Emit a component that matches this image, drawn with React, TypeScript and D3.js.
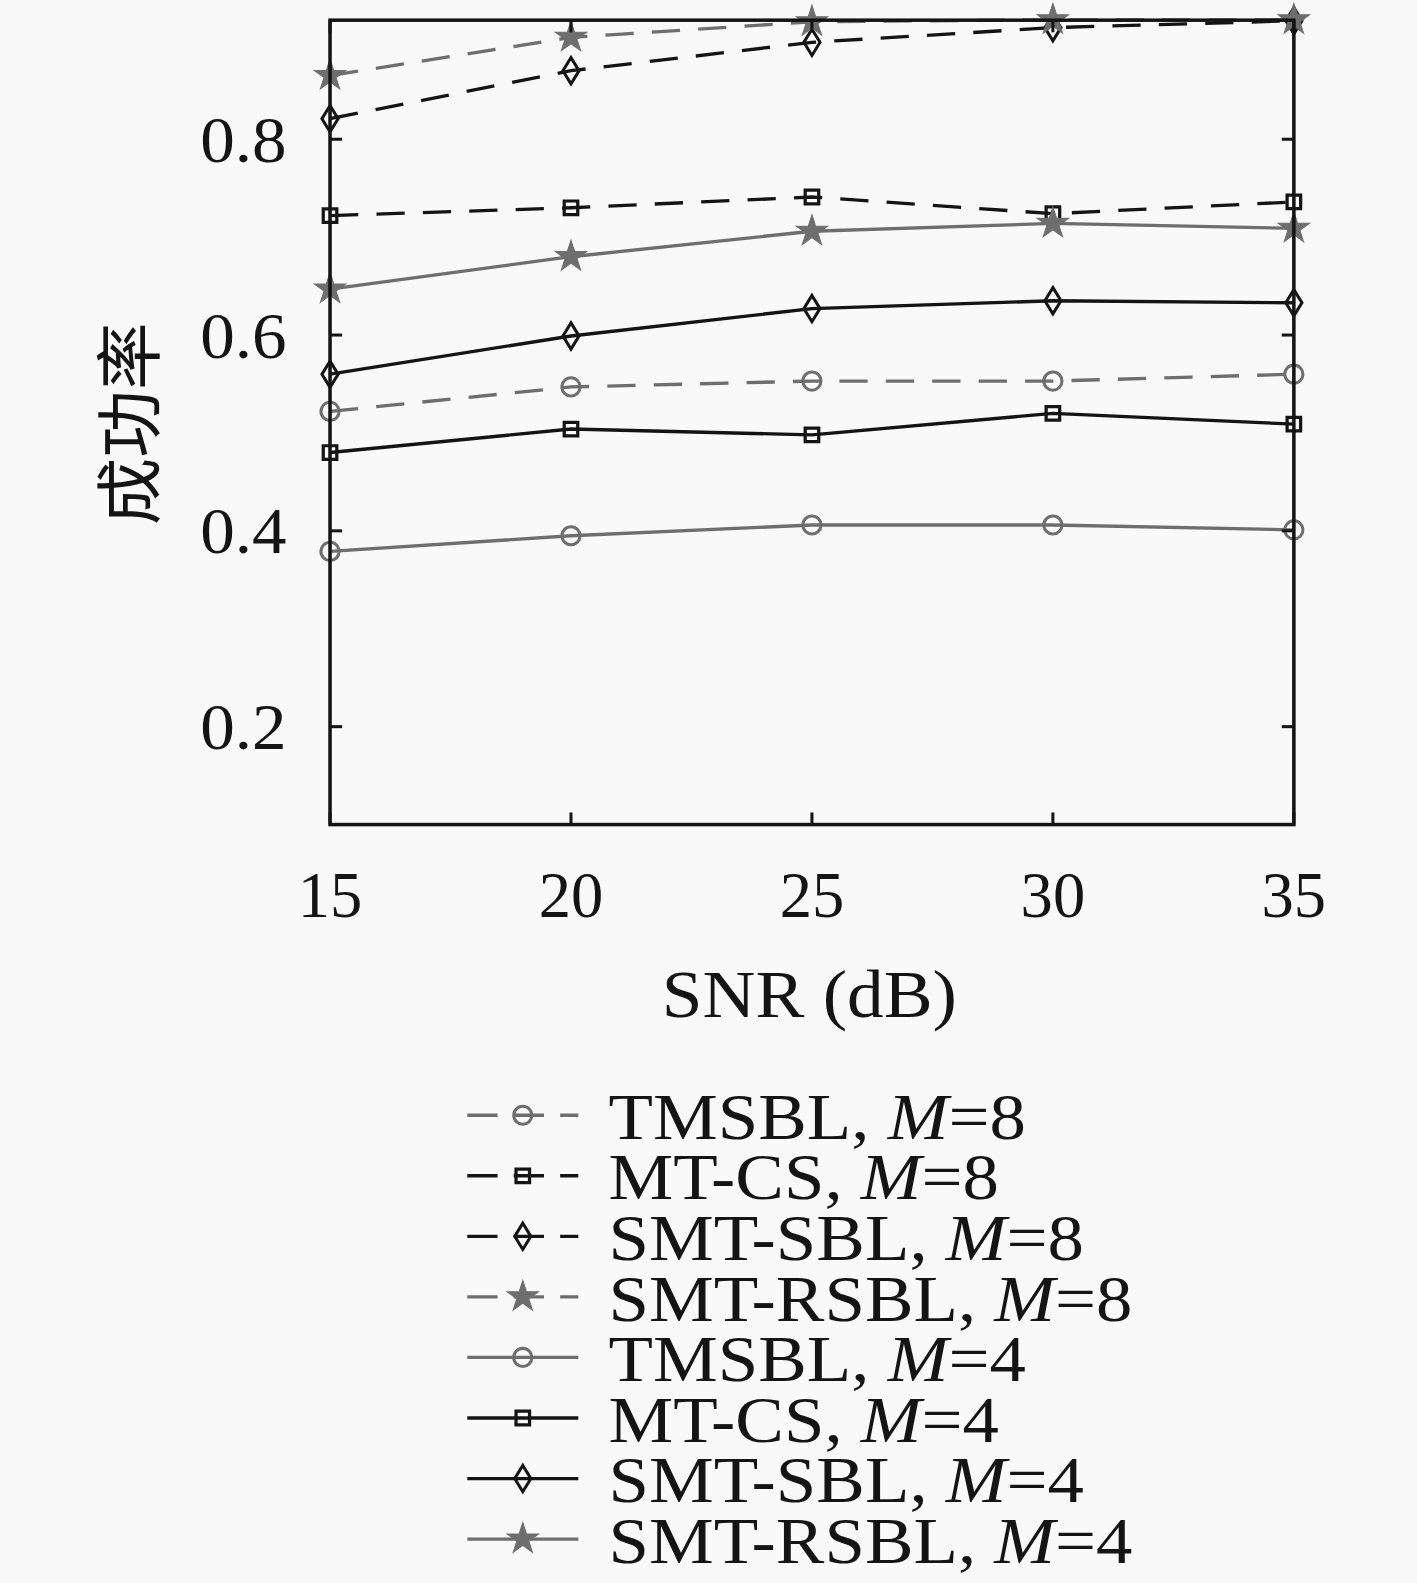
import React, { useEffect } from "react";
import * as d3 from "d3";

const snr = [15, 20, 25, 30, 35];
const yTicks = [0.2, 0.4, 0.6, 0.8];

const tmsbl8 = [0.522, 0.547, 0.553, 0.553, 0.56];
const mtcs8 = [0.722, 0.73, 0.741, 0.724, 0.736];
const smtsbl8 = [0.821, 0.87, 0.899, 0.914, 0.921];
const smtrsbl8 = [0.865, 0.904, 0.92, 0.922, 0.922];
const tmsbl4 = [0.379, 0.395, 0.406, 0.406, 0.401];
const mtcs4 = [0.48, 0.504, 0.498, 0.52, 0.509];
const smtsbl4 = [0.56, 0.599, 0.627, 0.635, 0.633];
const smtrsbl4 = [0.647, 0.68, 0.706, 0.714, 0.709];

const GRAY = "#6e6e6e";
const BLACK = "#141414";
const BG = "#f9f9f9";

type Marker = "circle" | "square" | "diamond" | "star";

const series = [
  { name: "TMSBL", m: 8, values: tmsbl8, color: GRAY, dashed: true, marker: "circle" as Marker },
  { name: "MT-CS", m: 8, values: mtcs8, color: BLACK, dashed: true, marker: "square" as Marker },
  { name: "SMT-SBL", m: 8, values: smtsbl8, color: BLACK, dashed: true, marker: "diamond" as Marker },
  { name: "SMT-RSBL", m: 8, values: smtrsbl8, color: GRAY, dashed: true, marker: "star" as Marker },
  { name: "TMSBL", m: 4, values: tmsbl4, color: GRAY, dashed: false, marker: "circle" as Marker },
  { name: "MT-CS", m: 4, values: mtcs4, color: BLACK, dashed: false, marker: "square" as Marker },
  { name: "SMT-SBL", m: 4, values: smtsbl4, color: BLACK, dashed: false, marker: "diamond" as Marker },
  { name: "SMT-RSBL", m: 4, values: smtrsbl4, color: GRAY, dashed: false, marker: "star" as Marker },
];

const W = 1417;
const H = 1583;
const K = 1417 / 1404; // positions below were read at 1404px width
const plot = { left: 327, right: 1282, top: 20, bottom: 817 };
const serif = "'Liberation Serif', 'Times New Roman', serif";

const x = d3.scaleLinear().domain([15, 35]).range([plot.left, plot.right]);
const y = d3.scaleLinear().domain([0.1, 0.9216]).range([plot.bottom, plot.top]);

const starPath = d3.symbol().type(d3.symbolStar).size(300)() as string;
const squarePath = d3.symbol().type(d3.symbolSquare).size(180)() as string;

function MarkerShape({ type, color, cx, cy }: { type: Marker; color: string; cx: number; cy: number }) {
  const t = `translate(${cx},${cy})`;
  if (type === "circle")
    return <circle cx={cx} cy={cy} r={9} fill="none" stroke={color} strokeWidth={3} />;
  if (type === "square")
    return <path d={squarePath} transform={t} fill="none" stroke={color} strokeWidth={3.2} />;
  if (type === "diamond")
    return <path d="M0,-13L8,0L0,13L-8,0Z" transform={t} fill="none" stroke={color} strokeWidth={3} />;
  return <path d={starPath} transform={t} fill={color} stroke={color} strokeWidth={1} />;
}

export default function App() {
  useEffect(() => {
    document.body.style.margin = "0";
    document.body.style.background = BG;
  }, []);

  const line = d3
    .line<number>()
    .x((_, i) => x(snr[i]))
    .y((d) => y(d));

  const legendX0 = 463;
  const legendX1 = 573;
  const legendTop = 1105;
  const legendStep = 60;

  return (
    <svg width={W} height={H} style={{ display: "block", background: BG }}>
      <rect x={0} y={0} width={W} height={H} fill={BG} />
      <g transform={`scale(${K})`}>
        {/* series */}
        {series.map((s, si) => (
          <g key={si}>
            <path
              d={line(s.values) as string}
              fill="none"
              stroke={s.color}
              strokeWidth={3.3}
              strokeDasharray={s.dashed ? "28 18" : undefined}
            />
            {s.values.map((v, i) => (
              <MarkerShape key={i} type={s.marker} color={s.color} cx={x(snr[i])} cy={y(v)} />
            ))}
          </g>
        ))}

        {/* frame */}
        <rect
          x={plot.left}
          y={plot.top}
          width={plot.right - plot.left}
          height={plot.bottom - plot.top}
          fill="none"
          stroke={BLACK}
          strokeWidth={3.5}
        />

        {/* y ticks */}
        {yTicks.map((t) => (
          <g key={t}>
            <line x1={plot.left} x2={plot.left + 12} y1={y(t)} y2={y(t)} stroke={BLACK} strokeWidth={3} />
            <line x1={plot.right} x2={plot.right - 12} y1={y(t)} y2={y(t)} stroke={BLACK} strokeWidth={3} />
            <text
              x={284}
              y={y(t)}
              dy="0.35em"
              textAnchor="end"
              fontFamily={serif}
              fontSize={64}
              fill={BLACK}
              transform={`translate(284,0) scale(1.07,1) translate(-284,0)`}
            >
              {t.toFixed(1)}
            </text>
          </g>
        ))}

        {/* x ticks */}
        {snr.map((t) => (
          <g key={t}>
            <line x1={x(t)} x2={x(t)} y1={plot.bottom} y2={plot.bottom - 12} stroke={BLACK} strokeWidth={3} />
            <line x1={x(t)} x2={x(t)} y1={plot.top} y2={plot.top + 12} stroke={BLACK} strokeWidth={3} />
            <text
              x={x(t)}
              y={909}
              textAnchor="middle"
              fontFamily={serif}
              fontSize={64}
              fill={BLACK}
            >
              {t}
            </text>
          </g>
        ))}

        {/* axis labels */}
        <text
          x={802}
          y={1008}
          textAnchor="middle"
          fontFamily={serif}
          fontSize={66}
          fill={BLACK}
          transform={`translate(802,0) scale(1.1,1) translate(-802,0)`}
        >
          SNR (dB)
        </text>
        <text
          transform={`translate(153,420) rotate(-90)`}
          textAnchor="middle"
          fontFamily="'Noto Sans CJK SC', sans-serif"
          fontSize={67}
          fill={BLACK}
        >
          成功率
        </text>

        {/* legend */}
        {series.map((s, i) => {
          const ly = legendTop + i * legendStep;
          return (
            <g key={i}>
              <line
                x1={legendX0}
                x2={legendX1}
                y1={ly}
                y2={ly}
                stroke={s.color}
                strokeWidth={3.3}
                strokeDasharray={s.dashed ? "30 16" : undefined}
              />
              <MarkerShape type={s.marker} color={s.color} cx={(legendX0 + legendX1) / 2} cy={ly} />
              <text
                x={603}
                y={ly}
                dy="0.36em"
                fontFamily={serif}
                fontSize={65}
                fill={BLACK}
                transform={`translate(603,0) scale(1.11,1) translate(-603,0)`}
              >
                {s.name},{" "}
                <tspan fontStyle="italic">M</tspan>=
                {s.m}
              </text>
            </g>
          );
        })}
      </g>
    </svg>
  );
}
